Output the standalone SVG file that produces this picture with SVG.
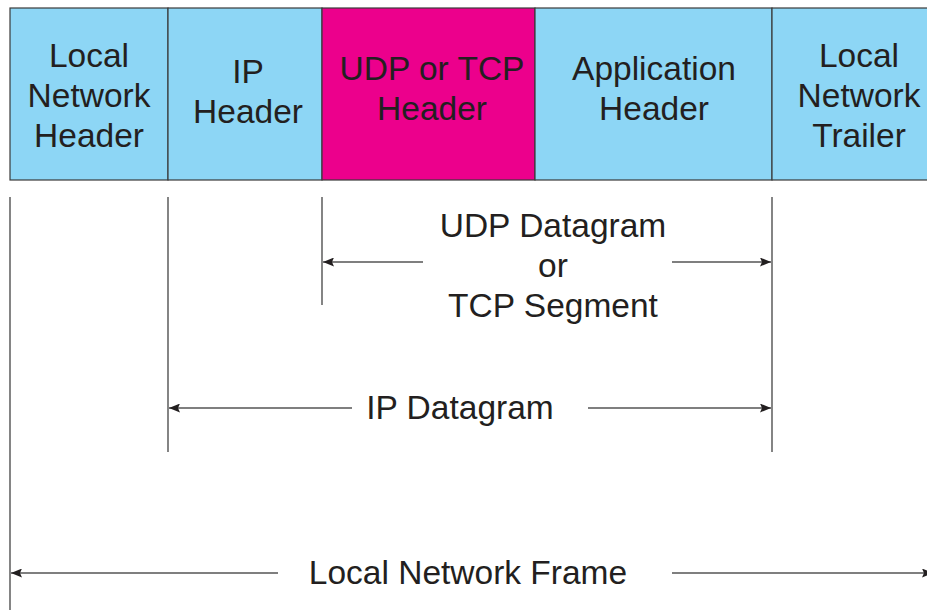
<svg xmlns="http://www.w3.org/2000/svg" width="927" height="610" viewBox="0 0 927 610">
<style>
.box{stroke:#3a3a3a;stroke-width:1.2}
.blue{fill:#8dd6f5}
.mag{fill:#ec008c}
.t{font-family:"Liberation Sans",Arial,sans-serif;font-size:33.5px;fill:#231f20;text-anchor:middle}
.ln{stroke:#555;stroke-width:1.4;fill:none}
.v{stroke:#333;stroke-width:1.2}
</style>
<defs>
<marker id="ah" viewBox="0 0 11 9" refX="11" refY="4.5" markerWidth="11" markerHeight="9" markerUnits="userSpaceOnUse" orient="auto-start-reverse">
<path d="M0,0 L11,4.5 L0,9 L2,4.5 Z" fill="#231f20"/>
</marker>
</defs>
<g id="local-network-header">
<rect class="box blue" x="10" y="8" width="158" height="172"/>
<text class="t" x="89" y="67">Local</text>
<text class="t" x="89" y="107">Network</text>
<text class="t" x="89" y="147">Header</text>
</g>
<g id="ip-header">
<rect class="box blue" x="168" y="8" width="154" height="172"/>
<text class="t" x="248" y="83">IP</text>
<text class="t" x="248" y="123">Header</text>
</g>
<g id="udp-tcp-header">
<rect class="box mag" x="322" y="8" width="213" height="172"/>
<text class="t" x="432" y="80">UDP or TCP</text>
<text class="t" x="432" y="120">Header</text>
</g>
<g id="application-header">
<rect class="box blue" x="535" y="8" width="237" height="172"/>
<text class="t" x="654" y="80">Application</text>
<text class="t" x="654" y="120">Header</text>
</g>
<g id="local-network-trailer">
<rect class="box blue" x="772" y="8" width="170" height="172"/>
<text class="t" x="859" y="67">Local</text>
<text class="t" x="859" y="107">Network</text>
<text class="t" x="859" y="147">Trailer</text>
</g>
<g id="connectors">
<line class="v" x1="10" y1="197" x2="10" y2="610"/>
<line class="v" x1="168" y1="197" x2="168" y2="452"/>
<line class="v" x1="322" y1="197" x2="322" y2="305"/>
<line class="v" x1="772" y1="197" x2="772" y2="452"/>
<line class="ln" x1="423" y1="262" x2="323" y2="262" marker-end="url(#ah)"/>
<line class="ln" x1="672" y1="262" x2="771" y2="262" marker-end="url(#ah)"/>
<line class="ln" x1="352" y1="408" x2="169" y2="408" marker-end="url(#ah)"/>
<line class="ln" x1="588" y1="408" x2="771" y2="408" marker-end="url(#ah)"/>
<line class="ln" x1="278" y1="573" x2="11" y2="573" marker-end="url(#ah)"/>
<line class="ln" x1="672" y1="573" x2="933" y2="573" marker-end="url(#ah)"/>
</g>
<g id="labels">
<text class="t" x="553" y="237">UDP Datagram</text>
<text class="t" x="553" y="277">or</text>
<text class="t" x="553" y="317">TCP Segment</text>
<text class="t" x="460" y="419">IP Datagram</text>
<text class="t" x="468" y="584">Local Network Frame</text>
</g>
</svg>
